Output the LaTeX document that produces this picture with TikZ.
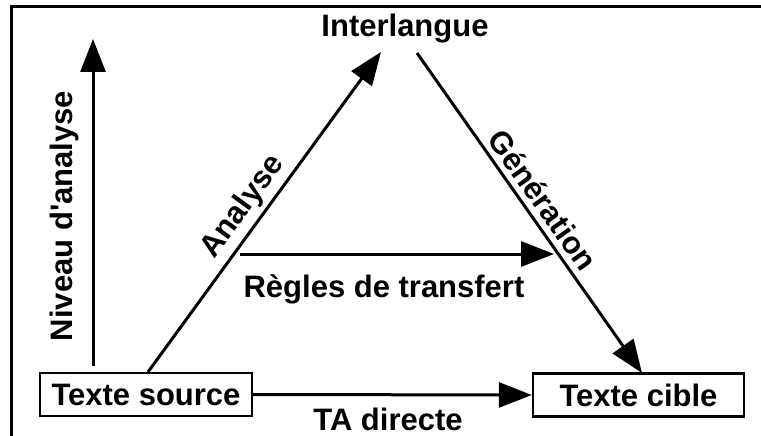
\documentclass[tikz,border=0pt]{standalone}
\usepackage{fontspec}
\setmainfont{Liberation Sans}[Ligatures=TeXOff]
\usetikzlibrary{arrows.meta}
\begin{document}
\begin{tikzpicture}[x=1pt,y=-1pt,
  lbl/.style={font=\fontsize{31}{32}\selectfont\bfseries, inner sep=0pt},
  txtbox/.style={lbl, draw, line width=2.4pt, minimum height=43pt, inner sep=0pt},
  arr/.style={line width=3pt, -{Triangle[length=33pt,width=25pt]}},
  frameline/.style={line width=3pt}]
\useasboundingbox (0,0) rectangle (761,436);
% frame (top and left edges only)
\coordinate (fTR) at (761,7);
\coordinate (fTL) at (11,7);
\coordinate (fBL) at (11,436);
\draw[frameline] (fTR) -- (fTL) -- (fBL);
% nodes
\node[txtbox, minimum width=212pt] (ts) at (146,394.5) {Texte source};
\node[txtbox, minimum width=211pt] (tc) at (638.5,395) {Texte cible};
\node[lbl, anchor=base] (il) at (405,37) {Interlangue};
% coordinates
\coordinate (nvA) at (93,366);
\coordinate (nvB) at (93,39);
\coordinate (anA) at (148,372);
\coordinate (anB) at (381,52);
\coordinate (geA) at (417,53);
\coordinate (geB) at (642,373);
\coordinate (rgA) at (240,254);
\coordinate (rgB) at (554,254);
% connectors
\draw[arr] (nvA) -- (nvB);
\draw[arr] (anA) -- (anB);
\draw[arr] (geA) -- (geB);
\draw[arr] (rgA) -- (rgB);
\draw[arr] (ts.east) -- (tc.west);
% labels
\node[lbl, anchor=base, rotate=90] (lniv) at (72,216) {Niveau d'analyse};
\node[lbl, rotate=53.8] (lan) at (243,207) {Analyse};
\node[lbl, rotate=-54.8] (lge) at (543,200) {Génération};
\node[lbl, anchor=base] (lrg) at (384,297) {Règles de transfert};
\node[lbl, anchor=base] (lta) at (388,430) {TA directe};
\end{tikzpicture}
\end{document}
